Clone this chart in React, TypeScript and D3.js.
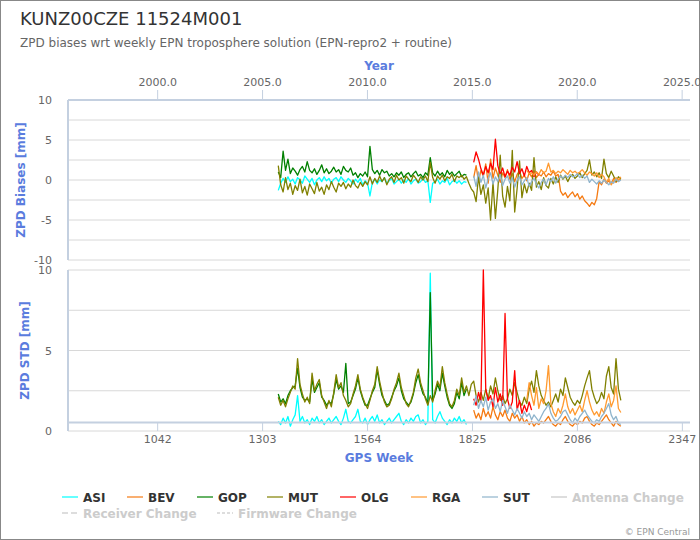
import React from 'react';
import * as d3 from 'd3';

const TITLE = 'KUNZ00CZE 11524M001';
const SUBTITLE = 'ZPD biases wrt weekly EPN troposphere solution (EPN-repro2 + routine)';
const WEEK_STEP = 6;
const PRE_START = 1342;
const POST_START = 1828;
const RGA_START = 1960;
const WEEK_DOMAIN = [819, 2366];

const ASI_BIAS = [-1.3,-0.4,0.2,-0.3,0.4,-0.2,0.1,-0.5,0.3,0.0,
-0.4,0.5,0.1,-0.3,0.2,-0.6,0.0,0.3,-0.2,0.4,
-0.1,0.2,-0.4,0.1,0.3,-0.2,0.4,0.0,-0.3,0.2,
-0.1,-0.5,0.1,-0.3,0.2,-0.6,-0.1,-0.4,-2.0,-0.3,
0.1,-0.5,0.0,-0.2,0.3,-0.4,-0.1,0.2,-0.5,-0.2,
0.1,-0.4,0.0,-0.3,0.2,-0.5,-0.1,0.1,-0.4,-0.2,
0.2,-0.3,-0.1,-2.8,-0.4,-0.2,0.1,-0.5,-0.1,-0.3,
0.2,-0.6,-0.2,0.0,-0.4,-0.1,-0.5,-0.2,-0.3];

const GOP_BIAS = [1.0,0.3,3.6,1.2,2.6,0.8,1.5,1.1,0.6,1.3,
1.7,1.0,2.3,1.2,0.9,1.4,0.7,1.2,1.9,0.9,
1.4,0.8,1.1,1.6,1.0,1.3,0.7,1.7,1.2,1.0,
1.5,0.6,0.9,0.3,0.8,0.5,1.0,0.4,4.2,1.3,
0.8,1.2,0.6,1.3,0.9,1.1,0.5,0.8,0.4,0.9,
0.6,1.0,0.3,0.7,0.9,0.4,0.8,1.1,0.5,0.7,
0.3,0.9,0.6,2.8,0.9,0.5,1.1,0.6,0.9,0.4,
1.2,0.7,1.0,0.5,0.8,1.1,0.4,0.7,0.6];

const MUT_BIAS = [1.8,-0.6,-1.5,0.3,-1.2,-0.4,-1.8,-0.7,-1.3,0.1,
-1.6,-0.8,-1.9,-0.5,-1.1,-1.7,-0.3,-1.4,-0.9,-1.8,
-0.6,-1.2,-0.2,-0.9,-1.5,-0.4,-0.8,-0.3,-1.1,-0.5,
-0.9,0.0,-0.7,-1.0,-0.3,-0.8,-0.2,-0.6,0.4,-0.5,
0.2,-0.3,0.5,-0.2,0.3,-0.6,0.1,0.4,-0.3,0.6,
0.0,0.3,-0.4,0.5,0.1,-0.2,0.6,0.2,-0.3,0.4,
0.0,0.5,-0.2,2.2,0.3,-0.4,0.5,0.1,0.6,-0.1,
0.4,0.2,0.7,-0.2,0.5,0.3,0.6,0.1,0.4,
-0.4,-1.1,
-1.5,-2.7,0.4,-1.8,-0.6,-2.9,-1.0,-5.0,-0.3,-4.8,
-1.2,3.1,-2.0,-3.4,-0.8,-2.6,3.7,-4.0,-1.1,2.4,
-2.2,-0.5,-1.6,-0.4,-1.3,2.8,-0.9,-0.2,-1.2,0.3,
-0.7,-1.0,0.2,-0.5,0.4,-0.3,0.6,0.1,0.5,-0.2,
0.4,0.7,0.2,0.5,0.9,0.3,0.8,1.2,2.5,0.6,
1.0,0.4,0.9,0.2,2.6,0.8,0.3,1.1,0.5,-0.2,
0.4,0.1];

const OLG_BIAS = [2.2,3.5,2.6,1.4,0.6,1.7,0.9,2.1,1.3,5.1,
1.8,0.7,1.5,0.4,1.1,0.6,1.6,1.0,2.3,0.8,
1.4,0.5,1.7,0.9,1.2,0.4,1.0,0.6];

const BEV_BIAS = [0.3,1.8,-0.2,1.2,0.5,2.0,-0.4,2.6,0.2,1.5,
0.6,-0.3,0.9,0.3,1.3,0.1,0.8,-0.2,0.7,1.1,
0.2,0.6,-0.1,0.9,0.4,1.2,0.3,0.7,0.5,1.0,
0.4,0.8,0.6,1.1,0.5,0.7,-1.4,-1.9,-1.6,-2.2,
-1.8,-1.5,-2.1,-1.7,-2.4,-2.0,-2.6,-2.9,-3.3,-2.8,
-3.1,-2.3,-0.2,-0.6,0.1,-0.4,-0.1,-0.5,0.2,-0.3,
0.0,0.2];

const RGA_BIAS = [1.2,0.8,0.9,0.6,1.0,0.7,1.3,0.9,1.1,2.1,
1.0,1.2,0.8,1.1,0.9,1.3,1.0,0.7,1.2,0.9,
1.1,0.8,1.0,1.3,0.9,0.6,1.0,0.8,0.5,0.9,
0.3,0.7,0.4,-0.3,0.2,-0.6,-0.1,0.3,0.0,0.4];

const SUT_BIAS = [0.5,-0.8,1.0,-0.3,0.6,-1.0,0.2,0.9,-0.5,0.4,
-0.2,0.7,-0.7,0.1,0.5,-0.4,0.3,-0.9,0.0,0.4,
-0.6,-0.1,0.3,-0.8,-0.2,0.2,-0.5,-1.0,-0.3,0.1,
-0.6,0.2,-0.2,0.4,-0.4,0.1,0.5,0.2,0.6,0.3,
0.7,0.4,0.5,0.8,0.3,0.6,0.2,0.5,-0.3,0.1,
-0.2,-0.5,-0.1,-0.4,0.0,-0.3,-0.6,-0.2,-0.4,0.1,
-0.2,0.0];

const ASI_STD = [0.6,0.4,0.8,0.5,0.9,0.3,0.7,1.0,2.2,0.6,
0.9,0.5,0.7,0.4,0.8,0.6,0.9,0.5,0.7,0.4,
0.6,0.8,0.5,0.7,0.9,0.6,0.4,0.8,1.35,0.6,
0.5,0.7,0.9,1.35,0.6,0.5,0.8,0.4,0.7,0.9,
0.6,1.0,0.5,0.7,0.4,0.6,0.8,0.5,0.7,0.9,
1.1,0.6,0.4,0.7,0.5,0.8,0.6,0.9,1.0,0.5,
0.7,0.4,0.6,9.8,0.7,0.5,0.9,1.2,0.8,0.6,
0.4,0.7,0.5,0.8,0.6,0.9,0.5,0.7,0.4];

const GOP_STD = [2.3,1.8,2.0,1.7,2.2,2.5,2.7,2.8,3.9,2.7,
2.1,1.9,2.0,1.8,3.2,2.4,2.7,3.0,2.1,1.9,
1.6,1.8,1.7,2.3,3.2,2.6,2.8,2.4,4.2,1.7,
1.8,2.2,2.6,3.3,2.5,2.0,1.6,1.6,2.0,2.4,
2.7,3.8,2.9,2.2,1.9,1.6,1.7,2.1,2.5,2.8,
3.3,2.5,2.0,1.8,1.6,1.8,2.3,3.0,3.5,2.8,
2.3,2.1,1.7,8.6,1.9,2.3,2.9,2.5,3.6,2.8,
2.1,1.6,1.4,1.7,2.4,2.0,3.0,2.2,2.6];

const MUT_STD = [2.1,1.6,1.9,1.5,2.0,2.4,2.8,2.6,4.5,2.9,
2.3,1.8,2.1,1.7,3.6,2.5,2.9,3.2,2.2,1.8,
1.4,1.9,1.5,2.4,3.5,2.7,3.0,2.2,1.9,1.5,
1.7,2.3,2.8,3.5,2.6,2.1,1.7,1.4,1.9,2.5,
2.9,4.0,3.1,2.4,1.8,1.5,1.6,2.0,2.6,3.0,
3.6,2.7,2.2,1.7,1.5,1.9,2.4,3.3,3.85,3.0,
2.5,2.0,1.6,2.2,1.8,2.5,3.1,2.7,4.0,3.0,
2.3,1.7,1.5,1.9,2.6,2.2,3.3,2.4,2.8,
2.2,2.9,
3.1,2.2,1.8,2.4,1.9,2.6,2.0,2.8,2.3,3.3,
2.5,1.9,2.2,1.7,2.0,2.6,2.2,3.0,2.4,1.8,
1.6,2.1,1.7,2.6,3.1,2.4,3.75,2.8,2.2,1.9,
1.6,1.8,1.5,1.9,2.3,1.8,2.6,2.2,3.3,2.7,
2.1,1.8,1.6,1.9,1.7,2.2,2.8,3.3,3.75,2.6,
2.1,1.7,1.9,2.4,2.0,3.4,4.0,2.7,2.3,4.5,
2.6,1.9];

const OLG_STD = [2.0,1.6,2.4,1.8,10.0,2.6,1.9,2.2,1.5,2.7,
1.8,2.3,1.6,7.3,2.0,1.4,1.8,3.75,1.3,1.9,
1.1,1.6,1.2,1.8,1.3];

const BEV_STD = [1.3,0.8,1.1,0.7,1.4,0.9,1.2,0.8,1.5,1.0,
0.7,1.2,0.9,1.3,0.8,0.6,1.1,0.8,1.0,0.6,
0.9,0.5,0.7,0.4,0.6,0.3,0.5,0.4,0.6,0.5,
0.7,0.9,0.6,0.4,0.3,0.5,0.4,0.7,0.9,0.6,
0.4,0.3,0.5,0.4,0.6,0.5,0.8,0.9,0.6,0.4,
0.3,0.5,0.4,0.6,0.8,1.0,0.7,0.5,0.3,0.6,
0.4,0.3];

const RGA_STD = [1.9,3.0,2.2,1.6,2.7,1.4,2.0,1.7,2.5,4.06,
1.7,1.2,0.9,1.4,1.1,1.6,2.3,1.5,1.1,1.4,
1.0,1.3,1.6,1.2,1.9,2.5,1.8,1.3,1.0,1.2,
0.9,1.4,1.1,1.8,2.3,1.5,1.9,2.8,1.4,1.15];

const SUT_STD = [1.6,2.2,1.4,1.9,1.5,2.1,1.3,1.8,2.0,1.4,
1.7,1.2,1.9,1.5,1.1,1.6,1.3,1.0,1.4,1.1,
0.8,1.2,0.9,1.1,0.7,1.0,0.8,0.6,0.9,1.2,
1.4,1.7,1.1,0.8,0.6,0.7,0.9,1.2,1.3,1.0,
0.7,0.5,0.8,0.6,0.9,1.1,1.3,1.0,0.8,0.6,
0.5,0.7,0.6,0.9,1.1,1.4,1.7,1.0,0.7,0.9,
0.5,0.4];

const YEAR_TICKS = [2000, 2005, 2010, 2015, 2020, 2025];
const WEEK_TICKS = [1042, 1303, 1564, 1825, 2086, 2347];
const BIAS_LABELS = [-10, -5, 0, 5, 10];
const BIAS_GRID = [-10, -7.5, -5, -2.5, 0, 2.5, 5, 7.5, 10];
const STD_LABELS = [0, 5, 10];
const STD_GRID = [0, 2.5, 5, 7.5, 10];

const SERIES = [
  { name: 'ASI', color: '#00ffff', biasStart: PRE_START, bias: ASI_BIAS, stdStart: PRE_START, std: ASI_STD },
  { name: 'BEV', color: '#f57a12', biasStart: POST_START, bias: BEV_BIAS, stdStart: POST_START, std: BEV_STD },
  { name: 'GOP', color: '#008000', biasStart: PRE_START, bias: GOP_BIAS, stdStart: PRE_START, std: GOP_STD },
  { name: 'MUT', color: '#808000', biasStart: PRE_START, bias: MUT_BIAS, stdStart: PRE_START, std: MUT_STD },
  { name: 'OLG', color: '#ff0000', biasStart: POST_START, bias: OLG_BIAS, stdStart: POST_START, std: OLG_STD },
  { name: 'RGA', color: '#ff9a30', biasStart: RGA_START, bias: RGA_BIAS, stdStart: RGA_START, std: RGA_STD },
  { name: 'SUT', color: '#8fb4cc', biasStart: POST_START, bias: SUT_BIAS, stdStart: POST_START, std: SUT_STD },
];

const EXTRA_LEGEND = [
  { name: 'Antenna Change', dash: '' },
  { name: 'Receiver Change', dash: '6,3' },
  { name: 'Firmware Change', dash: '3,2' },
];

const FONT = '"DejaVu Sans", Verdana, sans-serif';
const AXIS_COLOR = '#c4d0e0';
const GRID_COLOR = '#d8d8d8';
const TITLE_BLUE = '#5a7cde';

const W = 700, H = 540;
const PL = 68, PR = 690;
const TOP = { y0: 100, y1: 260 };
const BOT = { y0: 270, y1: 431 };

export default function App() {
  const x = d3.scaleLinear().domain(WEEK_DOMAIN).range([PL, PR]);
  const weekOfYear = (yr: number) => 1042 + (yr - 2000) * 52.1775;
  const yB = d3.scaleLinear().domain([-10, 10]).range([TOP.y1, TOP.y0]);
  const yS = d3.scaleLinear().domain([0, 10]).range([BOT.y1, BOT.y0]);

  const mkLine = (y: d3.ScaleLinear<number, number>, start: number) =>
    d3.line<number>().x((_, i) => x(start + i * WEEK_STEP)).y((v) => y(v));

  const legendRow1X = [62, 127, 197, 267, 340, 411, 482, 551];
  const legendRow2X = [62, 217];

  return (
    <svg width={W} height={H} style={{ position: 'absolute', left: 0, top: 0, fontFamily: FONT }}>
      <rect x={0.5} y={0.5} width={W - 1} height={H - 1} fill="#fff" stroke="#888" strokeWidth={1} />
      <text x={20} y={25} fontSize={18} fill="#333">{TITLE}</text>
      <text x={20} y={46.5} fontSize={12} fill="#666">{SUBTITLE}</text>

      {/* Year axis on top */}
      <text x={(PL + PR) / 2} y={70} fontSize={12} fontWeight="bold" fill={TITLE_BLUE} textAnchor="middle">Year</text>
      {YEAR_TICKS.map((t) => (
        <g key={'yt' + t}>
          <line x1={x(weekOfYear(t))} x2={x(weekOfYear(t))} y1={90} y2={100} stroke={AXIS_COLOR} strokeWidth={1} />
          <text x={x(weekOfYear(t))} y={86} fontSize={11} fill="#666" textAnchor="middle">{t.toFixed(1)}</text>
        </g>
      ))}

      {/* Top panel grid */}
      {BIAS_GRID.map((g) => (
        <line key={'bg' + g} x1={PL} x2={PR} y1={yB(g)} y2={yB(g)} stroke={GRID_COLOR} strokeWidth={1} />
      ))}
      {BIAS_LABELS.map((t) => (
        <text key={'bl' + t} x={52} y={yB(t) + 4} fontSize={11} fill="#666" textAnchor="end">{t}</text>
      ))}
      <text transform={`translate(25,${(TOP.y0 + TOP.y1) / 2}) rotate(-90)`} fontSize={12} fontWeight="bold" fill={TITLE_BLUE} textAnchor="middle">ZPD Biases [mm]</text>

      {/* Bottom panel grid */}
      {STD_GRID.map((g) => (
        <line key={'sg' + g} x1={PL} x2={PR} y1={yS(g)} y2={yS(g)} stroke={GRID_COLOR} strokeWidth={1} />
      ))}
      {STD_LABELS.map((t) => (
        <text key={'sl' + t} x={52} y={yS(t) + 4} fontSize={11} fill="#666" textAnchor="end">{t}</text>
      ))}
      <text transform={`translate(29,${(BOT.y0 + BOT.y1) / 2}) rotate(-90)`} fontSize={12} fontWeight="bold" fill={TITLE_BLUE} textAnchor="middle">ZPD STD [mm]</text>

      {/* Series */}
      {SERIES.map((s) => (
        <path key={'b' + s.name} d={mkLine(yB, s.biasStart)(s.bias) || ''} fill="none" stroke={s.color} strokeWidth={1.3} strokeLinejoin="round" />
      ))}
      {SERIES.map((s) => (
        <path key={'s' + s.name} d={mkLine(yS, s.stdStart)(s.std) || ''} fill="none" stroke={s.color} strokeWidth={1.3} strokeLinejoin="round" />
      ))}

      {/* Axis lines */}
      <line x1={PL} x2={PR} y1={TOP.y0} y2={TOP.y0} stroke={AXIS_COLOR} strokeWidth={2} />
      <line x1={PL} x2={PL} y1={TOP.y0} y2={TOP.y1} stroke={AXIS_COLOR} strokeWidth={2} />
      <line x1={PL} x2={PL} y1={BOT.y0} y2={BOT.y1} stroke={AXIS_COLOR} strokeWidth={2} />
      <line x1={PL} x2={PR} y1={422.5} y2={422.5} stroke={AXIS_COLOR} strokeWidth={2} />
      {WEEK_TICKS.map((t) => (
        <g key={'wt' + t}>
          <line x1={x(t)} x2={x(t)} y1={423} y2={431} stroke={AXIS_COLOR} strokeWidth={1} />
          <text x={x(t)} y={442.5} fontSize={11} fill="#666" textAnchor="middle">{t}</text>
        </g>
      ))}
      <text x={(PL + PR) / 2} y={462} fontSize={12} fontWeight="bold" fill={TITLE_BLUE} textAnchor="middle">GPS Week</text>

      {/* Legend */}
      {SERIES.map((s, i) => (
        <g key={'lg' + s.name}>
          <line x1={legendRow1X[i]} x2={legendRow1X[i] + 16} y1={497} y2={497} stroke={s.color} strokeOpacity={0.6} strokeWidth={2} />
          <text x={legendRow1X[i] + 21} y={501.5} fontSize={12} fontWeight="bold" fill="#333">{s.name}</text>
        </g>
      ))}
      {EXTRA_LEGEND.map((e, i) => {
        const lx = i === 0 ? legendRow1X[7] : legendRow2X[i - 1];
        const ly = i === 0 ? 497 : 513;
        return (
          <g key={'le' + e.name}>
            <line x1={lx} x2={lx + 16} y1={ly} y2={ly} stroke="#ddd" strokeWidth={2} strokeDasharray={e.dash || undefined} />
            <text x={lx + 21} y={ly + 4.5} fontSize={12} fontWeight="bold" fill="#ccc">{e.name}</text>
          </g>
        );
      })}

      <text x={690} y={535} fontSize={9} fill="#999" textAnchor="end">© EPN Central</text>
    </svg>
  );
}
